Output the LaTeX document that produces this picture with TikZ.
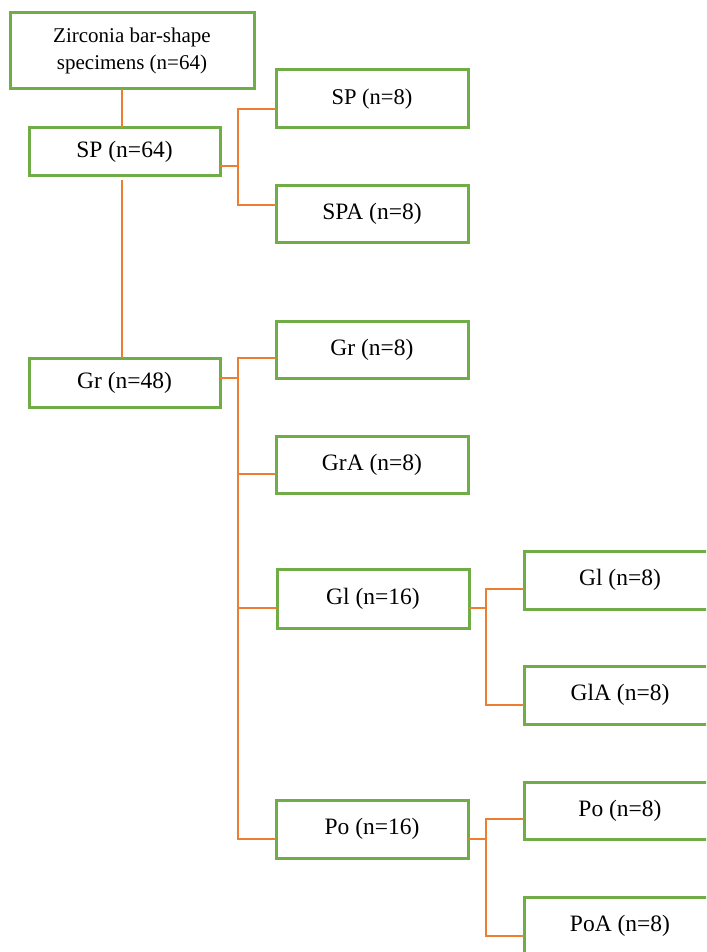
\documentclass[tikz,border=0pt]{standalone}
\usepackage{fontspec}
\setmainfont{Liberation Serif}
\definecolor{boxgreen}{HTML}{70AD47}
\definecolor{lineorange}{HTML}{ED7D31}
\begin{document}
\begin{tikzpicture}[x=1pt,y=-1pt,
  box/.style={draw=boxgreen,line width=3pt,fill=white,rectangle,inner sep=0pt,outer sep=0pt,
    minimum width=192pt,minimum height=58pt,font=\fontsize{23.5}{28}\selectfont,align=center},
  conn/.style={draw=lineorange,line width=2pt}]
\useasboundingbox (0,0) rectangle (706,952);
\clip (0,0) rectangle (706,952);
\fill[white] (0,0) rectangle (706,952);
\node[box,minimum width=244pt,minimum height=76pt,font=\fontsize{21}{27}\selectfont] (zr) at (132,51) {Zirconia bar-shape\\specimens (n=64)};
\node[box,minimum width=191pt,minimum height=48pt] (sp64) at (124.5,152) {SP (n=64)};
\node[box,font=\fontsize{22.5}{27}\selectfont] (sp8) at (372,99) {SP (n=8)};
\node[box,minimum height=57pt] (spa) at (372,213.5) {SPA (n=8)};
\node[box,minimum width=191pt,minimum height=49pt] (gr48) at (124.5,382.5) {Gr (n=48)};
\node[box,minimum height=57pt] (gr8) at (372,349.5) {Gr (n=8)};
\node[box,minimum height=57pt] (gra) at (372,464.5) {GrA (n=8)};
\node[box,minimum height=59pt] (gl16) at (373,598.5) {Gl (n=16)};
\node[box] (po16) at (372,829) {Po (n=16)};
\node[box] (gl8) at (620,580) {Gl (n=8)};
\node[box] (gla) at (620,695) {GlA (n=8)};
\node[box,minimum height=57pt] (po8) at (620,810.5) {Po (n=8)};
\node[box] (poa) at (620,926) {PoA (n=8)};
% top trunk
\draw[conn] ([xshift=-2.5pt]sp64.north) -- ([xshift=-2.5pt]sp64.north |- zr.south);
\draw[conn] ([xshift=-2.5pt,yshift=-4pt]sp64.south) -- ([xshift=-2.5pt]sp64.south |- gr48.north);
% SP bracket
\draw[conn] ([yshift=-14pt]sp64.east) -- ++(18,0) coordinate (b1);
\draw[conn] ([yshift=-10pt]sp8.west) -| (b1) |- ([yshift=8.5pt]spa.west);
% Gr bracket
\draw[conn] ([yshift=4.5pt]gr48.east) -- ++(18,0) coordinate (b2);
\draw[conn] ([yshift=-8.5pt]gr8.west) -| (b2) |- ([yshift=-10pt]po16.west);
\draw[conn] ([yshift=-9.5pt]gra.west) -- ([yshift=-9.5pt]gra.west -| b2);
\draw[conn] ([yshift=-9.5pt]gl16.west) -- ([yshift=-9.5pt]gl16.west -| b2);
% Gl bracket
\draw[conn] ([yshift=-9.5pt]gl16.east) -- ++(17,0) coordinate (b3);
\draw[conn] ([yshift=-9pt]gl8.west) -| (b3) |- ([yshift=-10pt]gla.west);
% Po bracket
\draw[conn] ([yshift=-10pt]po16.east) -- ++(18,0) coordinate (b4);
\draw[conn] ([yshift=-8.5pt]po8.west) -| (b4) |- ([yshift=-10pt]poa.west);
\end{tikzpicture}
\end{document}
